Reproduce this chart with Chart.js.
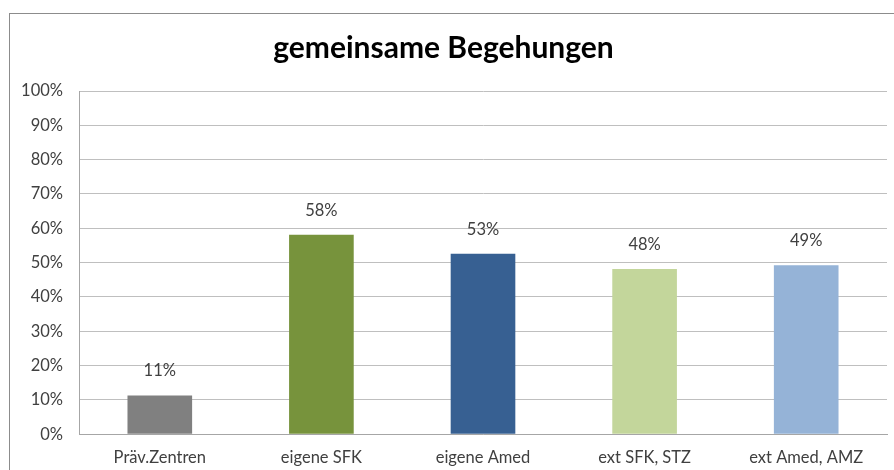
<!DOCTYPE html>
<html lang="de">
  <head>
    <meta charset="UTF-8" />
    <title>gemeinsame Begehungen</title>
    <style>
      html, body { margin: 0; padding: 0; background: #fff; overflow: hidden; }
      .frame {
        position: absolute; left: 9px; top: 13px; width: 900px; height: 470px;
        border-left: 1px solid #8c8c8c; border-top: 1px solid #8c8c8c;
      }
      .wrap { position: absolute; left: 0; top: 0; width: 894px; height: 484px; }
    </style>
  </head>
  <body>
    <div class="frame"></div>
    <div class="wrap"><canvas id="barChart"></canvas></div>

    <script src="https://cdn.jsdelivr.net/npm/chart.js"></script>
    <script>
      // data
      const categories = ["Präv.Zentren", "eigene SFK", "eigene Amed", "ext SFK, STZ", "ext Amed, AMZ"];
      const values = [11.3, 58.1, 52.6, 48.1, 49.2];
      const barColors = ["#808080", "#77933c", "#376092", "#c3d69b", "#95b3d7"];
      const yTicks = [0, 10, 20, 30, 40, 50, 60, 70, 80, 90, 100];

      const fontFamily = "Lato, 'Open Sans', sans-serif";

      // draws the value above each bar
      const valueLabels = {
        id: "valueLabels",
        afterDatasetsDraw(chart) {
          const ctx = chart.ctx;
          const meta = chart.getDatasetMeta(0);
          ctx.save();
          ctx.font = "16.5px " + fontFamily;
          ctx.fillStyle = "#404040";
          ctx.textAlign = "center";
          ctx.textBaseline = "alphabetic";
          meta.data.forEach((bar, i) => {
            ctx.fillText(Math.round(values[i]) + "%", bar.x, bar.y - 19);
          });
          ctx.restore();
        },
      };

      const ctx = document.getElementById("barChart").getContext("2d");
      new Chart(ctx, {
        type: "bar",
        data: {
          labels: categories,
          datasets: [
            {
              data: values,
              backgroundColor: barColors,
              barPercentage: 0.8,
              categoryPercentage: 0.5,
            },
          ],
        },
        options: {
          responsive: true,
          maintainAspectRatio: false,
          animation: false,
          layout: { padding: { left: 0, right: 7, top: 0, bottom: 2 } },
          plugins: {
            legend: { display: false },
            tooltip: { enabled: false },
            title: {
              display: true,
              text: "gemeinsame Begehungen",
              color: "#000",
              font: { family: fontFamily, size: 30, weight: "bold" },
              padding: { top: 30, bottom: 25 },
            },
          },
          scales: {
            x: {
              grid: { display: false, drawTicks: false },
              border: { color: "#a6a6a6" },
              ticks: { color: "#404040", font: { family: fontFamily, size: 16.5 }, padding: 14, maxRotation: 0 },
            },
            y: {
              min: 0,
              max: 100,
              afterBuildTicks(axis) {
                axis.ticks = yTicks.map((v) => ({ value: v }));
              },
              afterFit(axis) {
                axis.width = 79;
              },
              grid: { color: "#bfbfbf", drawTicks: false },
              border: { color: "#a6a6a6" },
              ticks: {
                color: "#404040",
                font: { family: fontFamily, size: 16.5 },
                padding: 16,
                callback: (v) => v + "%",
              },
            },
          },
        },
        plugins: [valueLabels],
      });
    </script>
  </body>
</html>
